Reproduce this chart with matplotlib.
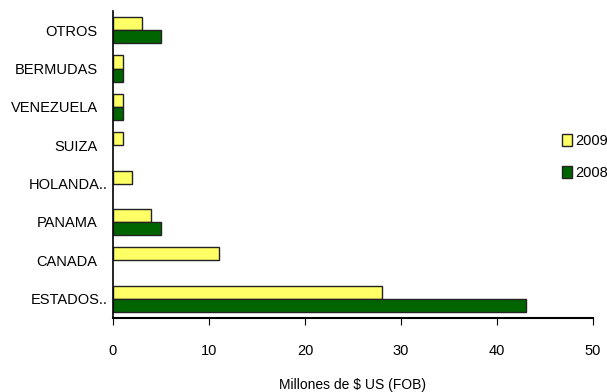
import numpy as np
import matplotlib.pyplot as plt
import matplotlib.transforms as mtransforms

plt.rcParams['font.family'] = ['Liberation Sans', 'DejaVu Sans']

paises = ["ESTADOS..", "CANADA", "PANAMA", "HOLANDA..", "SUIZA",
          "VENEZUELA", "BERMUDAS", "OTROS"]
v2009 = [28, 11, 4, 2, 1, 1, 1, 3]
v2008 = [43, 0, 5, 0, 0, 1, 1, 5]
xticks = [0, 10, 20, 30, 40, 50]

fig = plt.figure(figsize=(6.07, 3.92), dpi=100)
ax = fig.add_axes([0.186, 0.189, 0.791, 0.783])

y = np.arange(len(paises))
h = 0.34
b1 = ax.barh(y + h / 2, v2009, height=h, color="#ffff66", edgecolor="#222222",
             linewidth=1, label="2009")
b2 = ax.barh(y - h / 2, v2008, height=h, color="#006400", edgecolor="#222222",
             linewidth=1, label="2008")
# empty bars are not drawn in the original
for bars in (b1, b2):
    for r in bars:
        if r.get_width() == 0:
            r.set_visible(False)

ax.set_xlim(0, 50)
ax.set_ylim(-0.5, len(paises) - 0.5)
ax.set_xticks(xticks)
ax.set_yticks(y)
ax.set_yticklabels(paises)
ax.tick_params(axis="y", length=0, pad=11, labelsize=10.5)
ax.tick_params(axis="x", length=5, direction="out", pad=14, labelsize=10.5)
# truncated labels stick out a bit further toward the axis
shift = mtransforms.ScaledTranslation(10 / 100, 0, fig.dpi_scale_trans)
for lab in ax.get_yticklabels():
    if lab.get_text().endswith(".."):
        lab.set_transform(lab.get_transform() + shift)
for s in ["top", "right"]:
    ax.spines[s].set_visible(False)
ax.spines["left"].set_linewidth(1.2)
ax.spines["bottom"].set_linewidth(1.5)
ax.set_xlabel("Millones de $ US (FOB)", fontsize=10, labelpad=14)

ax.legend(handles=[b1, b2], loc="center left", bbox_to_anchor=(0.935, 0.525),
          frameon=False, fontsize=10.5, handlelength=0.7, handleheight=0.9,
          handletextpad=0.2, labelspacing=1.2, borderaxespad=0, borderpad=0)

fig.savefig("out.png", dpi=100)
